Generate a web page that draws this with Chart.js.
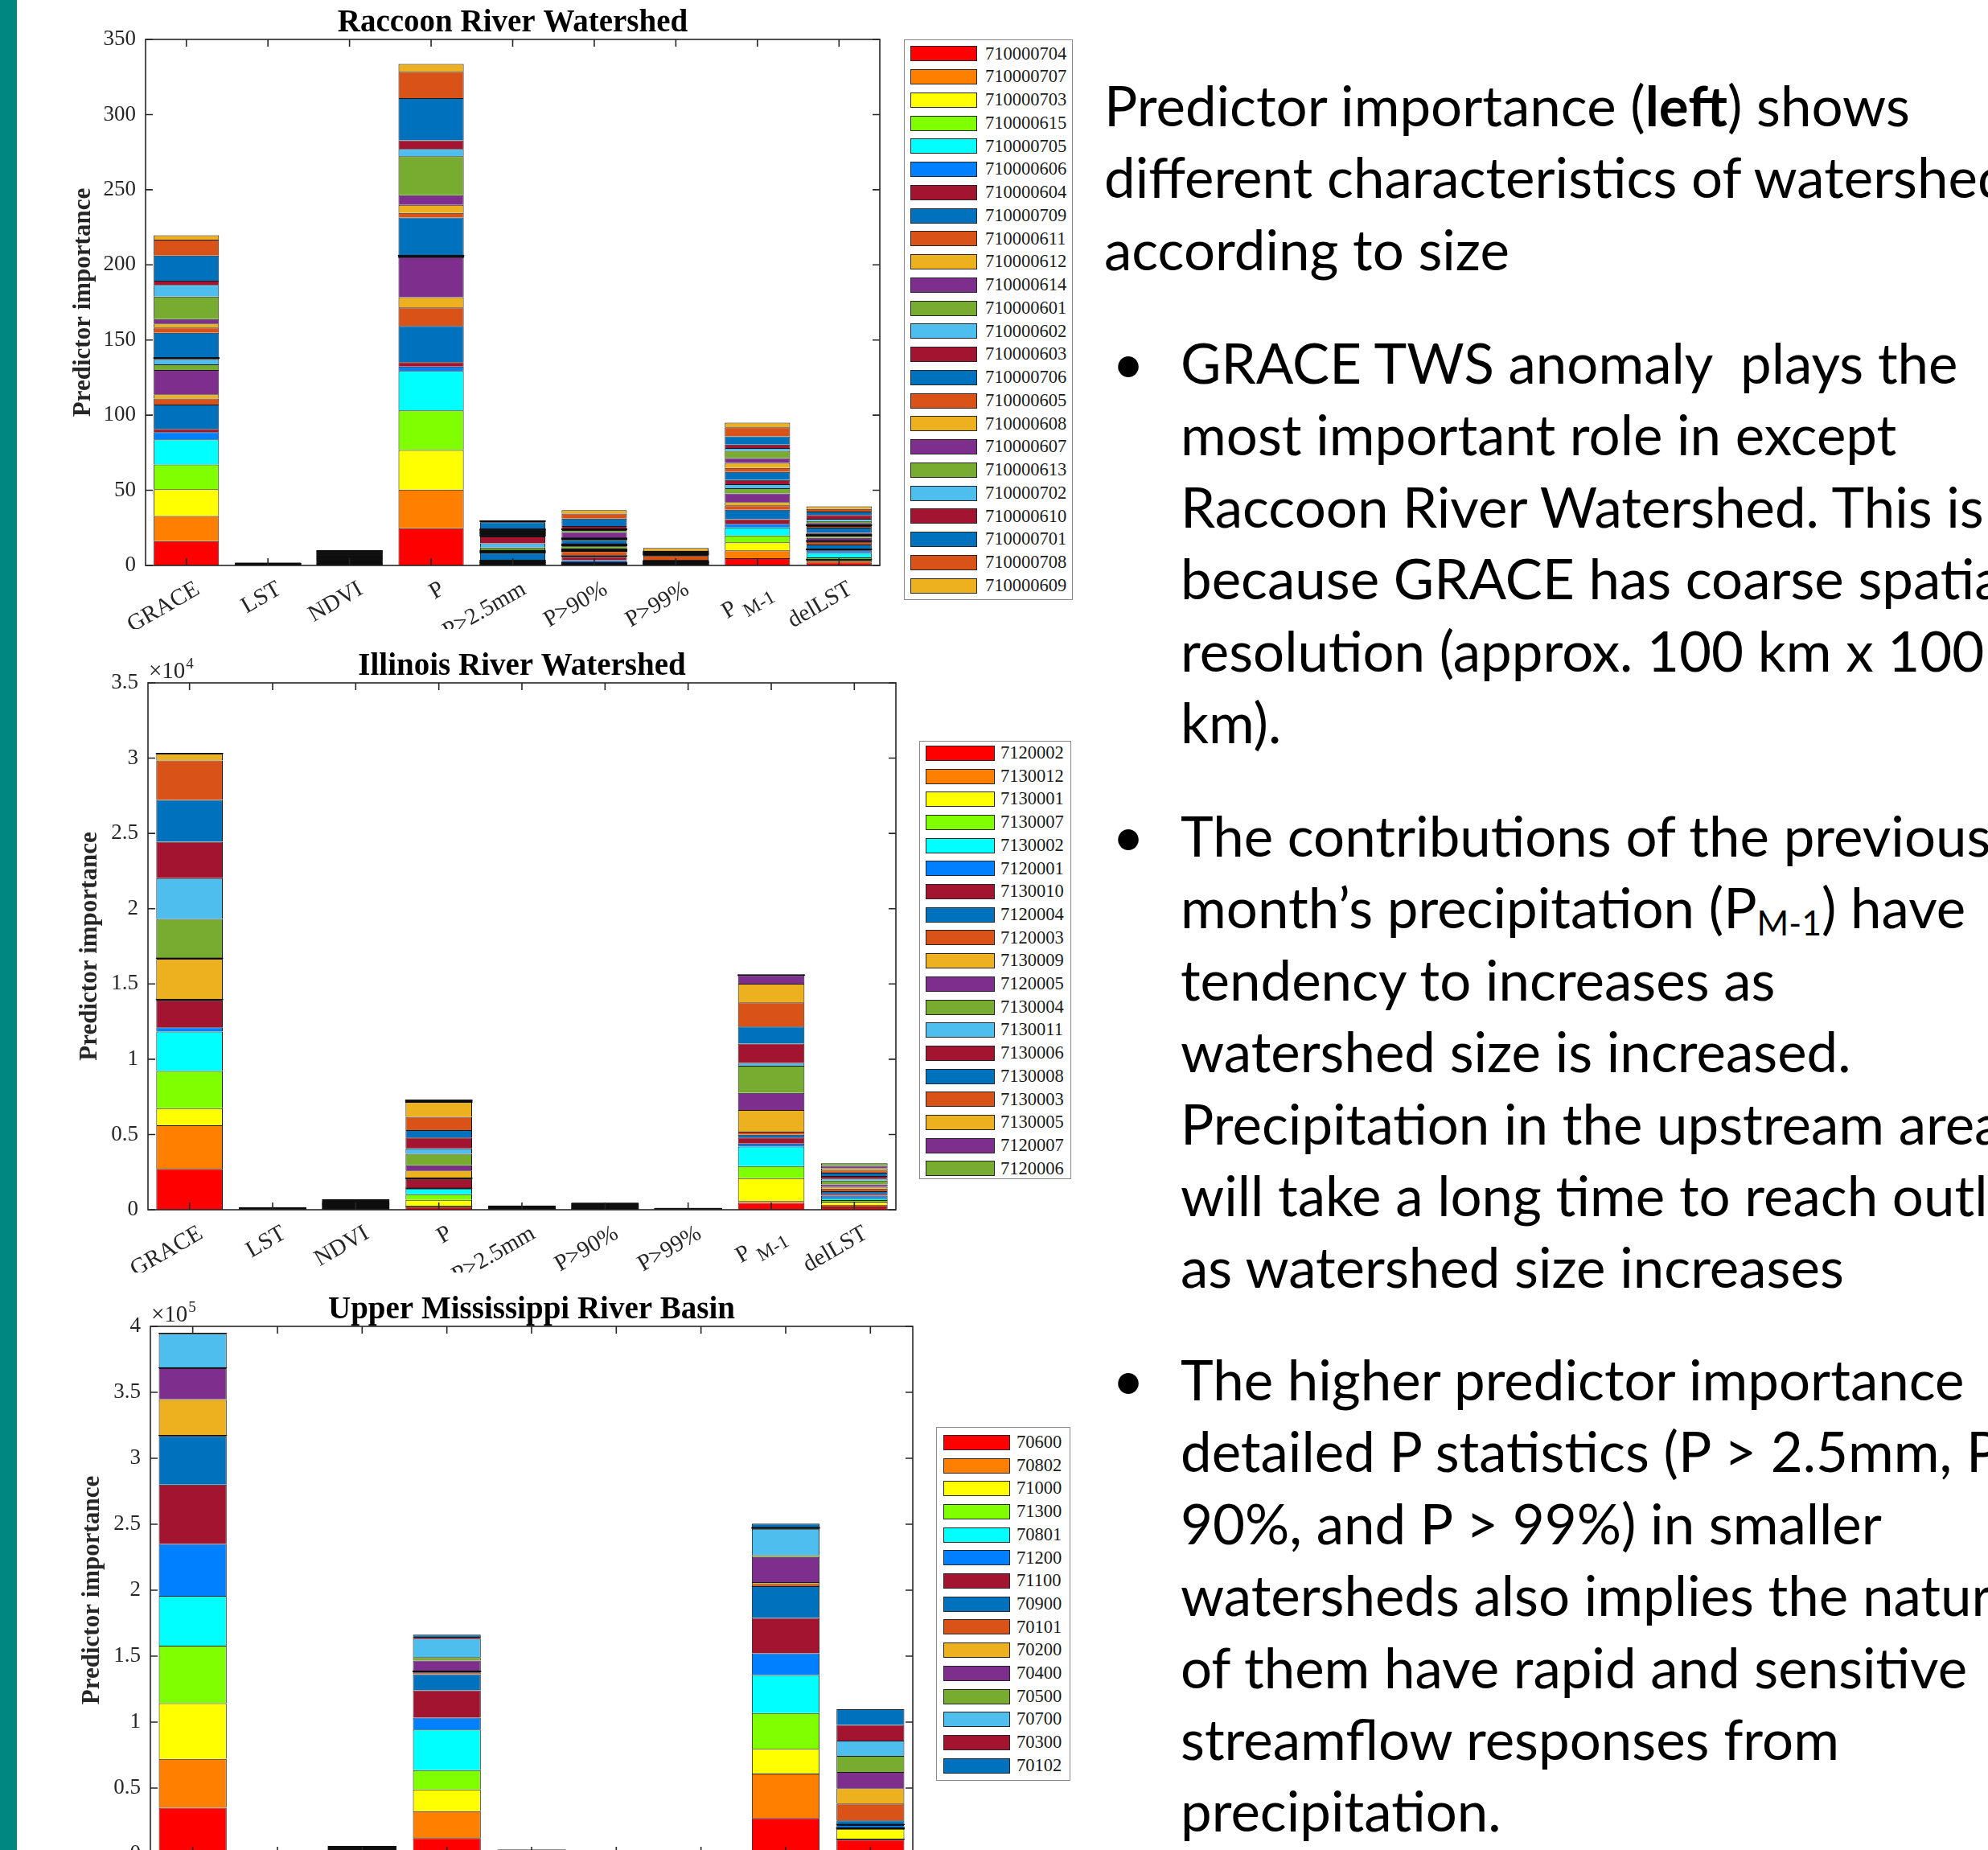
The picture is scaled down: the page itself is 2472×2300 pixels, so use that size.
<!DOCTYPE html>
<html><head><meta charset="utf-8">
<script src="https://cdn.jsdelivr.net/npm/chart.js@4.4.1/dist/chart.umd.min.js"></script>
<style>
html,body{margin:0;padding:0;background:#fff;}
body{width:2472px;height:2300px;overflow:hidden;position:relative;}
.cv{position:absolute;}
.legend{position:absolute;box-sizing:border-box;border:1.5px solid #8a8a8a;background:#fff;font-family:"Liberation Serif","Times New Roman",serif;font-size:22.5px;color:#1a1a1a;}
.sw{position:absolute;box-sizing:border-box;border:1.5px solid #262626;}
.lab{position:absolute;white-space:nowrap;}
.txt{position:absolute;font-family:Lato,"Open Sans",sans-serif;font-size:69px;line-height:89.4px;white-space:pre;color:#000;}
.sub{font-size:0.62em;line-height:0;vertical-align:-0.22em;}
</style></head><body>
<div style="position:absolute;left:0;top:0;width:21px;height:2300px;background:#00877F"></div>
<canvas id="c1" class="cv" style="left:30px;top:0px" width="1080" height="782"></canvas>
<canvas id="c2" class="cv" style="left:30px;top:790px" width="1090" height="792"></canvas>
<canvas id="c3" class="cv" style="left:30px;top:1595px" width="1110" height="800"></canvas>
<div id="leg1" class="legend"></div>
<div id="leg2" class="legend"></div>
<div id="leg3" class="legend"></div>
<div id="t0" class="txt" style="left:1373px;top:86px"></div>
<div class="txt" style="left:1383px;top:406px">•</div>
<div id="t1" class="txt" style="left:1468px;top:406px"></div>
<div class="txt" style="left:1383px;top:994px">•</div>
<div id="t2" class="txt" style="left:1468px;top:994px"></div>
<div class="txt" style="left:1383px;top:1670px">•</div>
<div id="t3" class="txt" style="left:1468px;top:1670px"></div>
<script>
// ---------------- DATA ----------------
const categories = ['GRACE','LST','NDVI','P','P>2.5mm','P>90%','P>99%','P_M-1','delLST'];

// Raccoon River Watershed (stack order bottom -> top = legend order)
const raccoonIds = ['710000704','710000707','710000703','710000615','710000705','710000606','710000604','710000709','710000611','710000612','710000614','710000601','710000602','710000603','710000706','710000605','710000608','710000607','710000613','710000702','710000610','710000701','710000708','710000609'];
const raccoonGRACE = [16.2,16.7,17.8,16.5,16.7,4.8,2.1,16.2,4.0,2.9,16.2,3.7,3.5,1.0,16.5,3.5,2.7,2.9,15.0,7.7,2.9,16.7,10.6,2.9];
const raccoonLST   = [0.07,0.06,0.05,0.07,0.06,0.05,0.06,0.07,0.06,0.05,0.06,0.07,0.06,0.05,0.07,0.06,0.06,0.05,0.07,0.06,0.06,0.07,0.06,0.06];
const raccoonNDVI  = [0.45,0.40,0.42,0.38,0.44,0.41,0.43,0.40,0.42,0.39,0.45,0.41,0.40,0.43,0.42,0.38,0.41,0.44,0.40,0.42,0.43,0.39,0.41,0.42];
const raccoonP     = [24.7,25.8,26.3,26.3,26.3,2.9,2.9,24.2,12.2,6.9,26.6,0.5,0.4,0.4,25.0,3.2,5.3,6.4,26.0,4.8,5.8,28.0,17.5,5.3];
const raccoonP25   = [0.5,0.5,0.5,0.5,0.5,0.5,0.5,4.8,0.6,0.6,0.6,1.8,2.8,4.5,0.8,0.8,0.8,0.8,0.8,0.5,0.5,4.6,0.5,0.4];
const raccoonP90   = [0.4,0.4,0.4,0.4,0.4,1.5,2.2,0.8,3.0,0.8,0.6,1.8,0.8,0.8,2.6,0.7,0.6,4.0,1.4,0.8,1.8,5.0,3.3,2.3];
const raccoonP99   = [0.2,0.2,0.2,0.2,0.2,0.2,0.2,0.3,0.2,0.2,0.2,0.2,0.2,0.2,0.3,3.3,0.4,0.4,0.4,0.4,0.4,0.4,0.5,2.3];
const raccoonPM1   = [4.8,5.3,5.3,4.6,5.3,2.4,3.1,6.3,2.9,2.1,5.8,3.5,2.6,2.9,5.3,2.7,3.4,3.1,4.9,1.9,2.2,5.5,6.0,3.1];
const raccoonDel   = [2.0,1.3,0.9,1.1,3.0,1.7,0.9,3.0,1.7,0.9,1.8,1.4,0.9,1.1,3.4,1.1,0.9,1.1,1.4,1.5,2.5,2.3,1.7,1.7];
const raccoonYTicks = [0,50,100,150,200,250,300,350];
const raccoonYTickLabels = ['0','50','100','150','200','250','300','350'];

// Illinois River Watershed
const illinoisIds = ['7120002','7130012','7130001','7130007','7130002','7120001','7130010','7120004','7120003','7130009','7120005','7130004','7130011','7130006','7130008','7130003','7130005','7120007','7120006'];
const illinoisGRACE = [2710,2900,1140,2470,2610,290,1780,50,30,2690,50,2600,2710,2420,2770,2630,430,20,20];
const illinoisLST   = [8,7,6,8,7,7,6,8,7,7,6,8,7,7,8,6,7,7,8];
const illinoisNDVI  = [38,34,36,33,37,35,34,36,35,33,37,34,36,35,34,36,33,35,36];
const illinoisP     = [190,20,450,370,370,30,610,30,30,500,350,770,350,720,500,880,980,80,50];
const illinoisP25   = [14,12,13,12,14,13,12,13,12,14,13,12,13,12,13,14,12,13,12];
const illinoisP90   = [24,22,23,21,24,23,22,23,22,24,23,21,23,22,24,23,22,23,22];
const illinoisP99   = [5,4,4,4,5,4,4,4,5,4,4,4,5,4,4,4,5,4,4];
const illinoisPM1   = [450,130,1520,800,1300,190,400,190,200,1440,1140,1800,190,1280,1140,1600,1250,560,20];
const illinoisDel   = [220,120,190,110,120,180,120,170,170,120,160,260,130,170,220,140,150,160,170];
const illinoisYTicks = [0,5000,10000,15000,20000,25000,30000,35000];
const illinoisYTickLabels = ['0','0.5','1','1.5','2','2.5','3','3.5'];

// Upper Mississippi River Basin
const upperIds = ['70600','70802','71000','71300','70801','71200','71100','70900','70101','70200','70400','70500','70700','70300','70102'];
const upperGRACE = [35100,37000,42300,43600,37800,39200,45000,36700,500,27600,23500,300,25700,300,300];
const upperLST   = [22,18,20,21,19,20,22,18,20,21,19,20,22,18,20];
const upperNDVI  = [400,380,390,370,410,390,380,400,390,370,400,380,390,410,380];
const upperP     = [12000,20400,16600,14600,30700,9100,20700,12200,1400,1000,8000,2500,14100,1400,1600];
const upperP25   = [200,190,210,200,190,200,210,190,200,200,210,190,200,200,210];
const upperP90   = [50,50,50,50,50,50,50,50,50,50,50,50,50,50,50];
const upperP99   = [40,40,40,40,40,40,40,40,40,40,40,40,40,40,40];
const upperPM1   = [27300,33700,18800,27100,28700,16600,26800,24000,1700,1400,19000,1400,20000,1100,2800];
const upperDel   = [10800,500,7700,500,500,2000,500,3000,12700,11600,12400,12200,11600,11900,11900];
const upperYTicks = [0,50000,100000,150000,200000,250000,300000,350000,400000];
const upperYTickLabels = ['0','0.5','1','1.5','2','2.5','3','3.5','4'];

// MATLAB-style colour order used by the series
const firstColors = ['#FF0000','#FF8000','#FFFF00','#80FF00','#00FFFF','#0080FF'];
const cycleColors = ['#A2142F','#0072BD','#D95319','#EDB120','#7E2F8E','#77AC30','#4DBEEE'];
function seriesColor(i){ return i < 6 ? firstColors[i] : cycleColors[(i-6) % 7]; }

// ---------------- DRAWING ----------------
const ink = '#262626';
const LABEL_FONT = 29;
const SUB_FONT = 24;
const matlabPlugin = {
  id: 'matlab',
  afterDraw(chart, args, o) {
    const {ctx, chartArea: a} = chart;
    const xs = chart.scales.x, ys = chart.scales.y;
    const labels = chart.data.labels;
    ctx.save();
    ctx.strokeStyle = ink; ctx.fillStyle = ink; ctx.lineWidth = 1.6;
    ctx.strokeRect(a.left, a.top, a.right - a.left, a.bottom - a.top);
    ctx.beginPath();
    ys.ticks.forEach(t => {
      const py = ys.getPixelForValue(t.value);
      ctx.moveTo(a.left, py); ctx.lineTo(a.left + 9, py);
      ctx.moveTo(a.right, py); ctx.lineTo(a.right - 9, py);
    });
    labels.forEach((_, i) => {
      const px = xs.getPixelForValue(i);
      ctx.moveTo(px, a.bottom); ctx.lineTo(px, a.bottom - 9);
      ctx.moveTo(px, a.top); ctx.lineTo(px, a.top + 9);
    });
    ctx.stroke();
    // rotated category labels
    labels.forEach((lab, i) => {
      const px = xs.getPixelForValue(i);
      ctx.save();
      ctx.translate(px + o.lx, a.bottom + o.ly);
      ctx.rotate(-Math.PI / 6);
      ctx.textBaseline = 'top'; ctx.textAlign = 'left';
      const parts = lab.split('_');
      ctx.font = LABEL_FONT + 'px "Liberation Serif"';
      const w0 = ctx.measureText(parts[0]).width;
      if (parts.length > 1) {
        ctx.font = SUB_FONT + 'px "Liberation Serif"';
        const w1 = ctx.measureText(parts[1]).width;
        ctx.fillText(parts[1], -w1, 15);
        ctx.font = LABEL_FONT + 'px "Liberation Serif"';
        ctx.fillText(parts[0], -w1 - 7 - w0, 0);
      } else {
        ctx.fillText(parts[0], -w0, 0);
      }
      ctx.restore();
    });
    // title
    ctx.fillStyle = '#000';
    ctx.font = 'bold 39px "Liberation Serif"';
    ctx.textAlign = 'center'; ctx.textBaseline = 'alphabetic';
    ctx.fillText(o.title, (a.left + a.right) / 2, a.top - 10);
    // y label
    ctx.save();
    ctx.translate(a.left - o.yoff, (a.top + a.bottom) / 2);
    ctx.rotate(-Math.PI / 2);
    ctx.font = 'bold 31px "Liberation Serif"';
    ctx.textBaseline = 'middle';
    ctx.fillStyle = '#262626';
    ctx.fillText('Predictor importance', 0, 0);
    ctx.restore();
    // exponent
    if (o.exp) {
      ctx.fillStyle = ink; ctx.textAlign = 'left';
      ctx.font = '29px "Liberation Serif"';
      ctx.fillText('×10', a.left + 1, a.top - 6);
      const w = ctx.measureText('×10').width;
      ctx.font = '19px "Liberation Serif"';
      ctx.fillText(o.exp, a.left + 2 + w, a.top - 18);
    }
    ctx.restore();
  }
};

function tinySegment(c) {
  const y = c.chart.scales && c.chart.scales.y;
  if (y && typeof c.raw === 'number') {
    const h = Math.abs(y.getPixelForValue(c.raw) - y.getPixelForValue(0));
    return isFinite(h) && h < 2;
  }
  return false;
}

function makeChart(canvasId, ids, stacks, yTicks, yTickLabels, lay, opts) {
  const datasets = ids.map((id, s) => {
    const col = seriesColor(s);
    return {
      label: id,
      data: stacks.map(c => c[s]),
      backgroundColor: (c) => tinySegment(c) ? '#0a0a0a' : col,
      inflateAmount: (c) => tinySegment(c) ? 0.7 : 'auto',
      borderColor: '#1a1a1a',
      borderWidth: {top: 1, right: 1, bottom: 0, left: 1},
      borderSkipped: false,
      barPercentage: 0.8,
      categoryPercentage: 1
    };
  });
  return new Chart(document.getElementById(canvasId), {
    type: 'bar',
    data: {labels: categories, datasets},
    plugins: [matlabPlugin],
    options: {
      responsive: false, animation: false, devicePixelRatio: 1, events: [],
      layout: {padding: {left: 0, top: lay.top, right: lay.right, bottom: lay.bottom}},
      plugins: {legend: {display: false}, title: {display: false}, tooltip: {enabled: false}, matlab: opts},
      scales: {
        x: {stacked: true, offset: true, grid: {display: false, drawTicks: false}, border: {display: false},
            ticks: {display: false}, afterFit: s => { s.height = 0; }},
        y: {stacked: true, min: 0, max: yTicks[yTicks.length - 1],
            grid: {display: false, drawTicks: false}, border: {display: false},
            afterBuildTicks: s => { s.ticks = yTicks.map(v => ({value: v})); },
            afterFit: s => { s.width = lay.wy; },
            ticks: {autoSkip: false, padding: 12, color: ink, font: {family: 'Liberation Serif', size: 27},
                    callback: (v, i) => yTickLabels[i]}}
      }
    }
  });
}

makeChart('c1', raccoonIds,
  [raccoonGRACE, raccoonLST, raccoonNDVI, raccoonP, raccoonP25, raccoonP90, raccoonP99, raccoonPM1, raccoonDel],
  raccoonYTicks, raccoonYTickLabels,
  {wy: 151, top: 49, right: 16, bottom: 79},
  {title: 'Raccoon River Watershed', yoff: 77, lx: 7, ly: 15, exp: ''});

makeChart('c2', illinoisIds,
  [illinoisGRACE, illinoisLST, illinoisNDVI, illinoisP, illinoisP25, illinoisP90, illinoisP99, illinoisPM1, illinoisDel],
  illinoisYTicks, illinoisYTickLabels,
  {wy: 154, top: 59, right: 6, bottom: 78},
  {title: 'Illinois River Watershed', yoff: 72, lx: 7, ly: 15, exp: '4'});

makeChart('c3', upperIds,
  [upperGRACE, upperLST, upperNDVI, upperP, upperP25, upperP90, upperP99, upperPM1, upperDel],
  upperYTicks, upperYTickLabels,
  {wy: 157, top: 54, right: 5, bottom: 90},
  {title: 'Upper Mississippi River Basin', yoff: 72, lx: 7, ly: 15, exp: '5'});

// ---------------- LEGENDS ----------------
function buildLegend(id, ids, box) {
  const el = document.getElementById(id);
  Object.assign(el.style, {left: box.left + 'px', top: box.top + 'px', width: box.width + 'px', height: box.height + 'px'});
  ids.forEach((name, i) => {
    const top = box.padTop + i * box.rowH;
    const sw = document.createElement('div'); sw.className = 'sw';
    Object.assign(sw.style, {left: box.swLeft + 'px', top: (top + (box.rowH - 19) / 2) + 'px',
      width: box.swW + 'px', height: '19px', background: seriesColor(i)});
    const lb = document.createElement('div'); lb.className = 'lab';
    Object.assign(lb.style, {left: box.labLeft + 'px', top: top + 'px', lineHeight: box.rowH + 'px'});
    lb.textContent = name;
    el.appendChild(sw); el.appendChild(lb);
  });
}
buildLegend('leg1', raccoonIds, {left: 1124, top: 49, width: 210, height: 697, padTop: 2.5, rowH: 28.75, swLeft: 7, swW: 83, labLeft: 100});
buildLegend('leg2', illinoisIds, {left: 1143, top: 921, width: 189, height: 545, padTop: 0, rowH: 28.7, swLeft: 7, swW: 86, labLeft: 100});
buildLegend('leg3', upperIds, {left: 1164, top: 1774, width: 167, height: 440, padTop: 4, rowH: 28.7, swLeft: 8, swW: 83, labLeft: 99});

// ---------------- TEXT ----------------
document.getElementById('t0').innerHTML = [
  'Predictor importance (<b>left</b>) shows',
  'different characteristics of watersheds',
  'according to size'].join('\n');
document.getElementById('t1').innerHTML = [
  'GRACE TWS anomaly  plays the',
  'most important role in except',
  'Raccoon River Watershed. This is',
  'because GRACE has coarse spatial',
  'resolution (approx. 100 km x 100',
  'km).'].join('\n');
document.getElementById('t2').innerHTML = [
  'The contributions of the previous',
  'month’s precipitation (P<span class="sub">M-1</span>) have',
  'tendency to increases as',
  'watershed size is increased.',
  'Precipitation in the upstream area',
  'will take a long time to reach outlet',
  'as watershed size increases'].join('\n');
document.getElementById('t3').innerHTML = [
  'The higher predictor importance',
  'detailed P statistics (P &gt; 2.5mm, P &gt;',
  '90%, and P &gt; 99%) in smaller',
  'watersheds also implies the nature',
  'of them have rapid and sensitive',
  'streamflow responses from',
  'precipitation.'].join('\n');
</script>
</body></html>
